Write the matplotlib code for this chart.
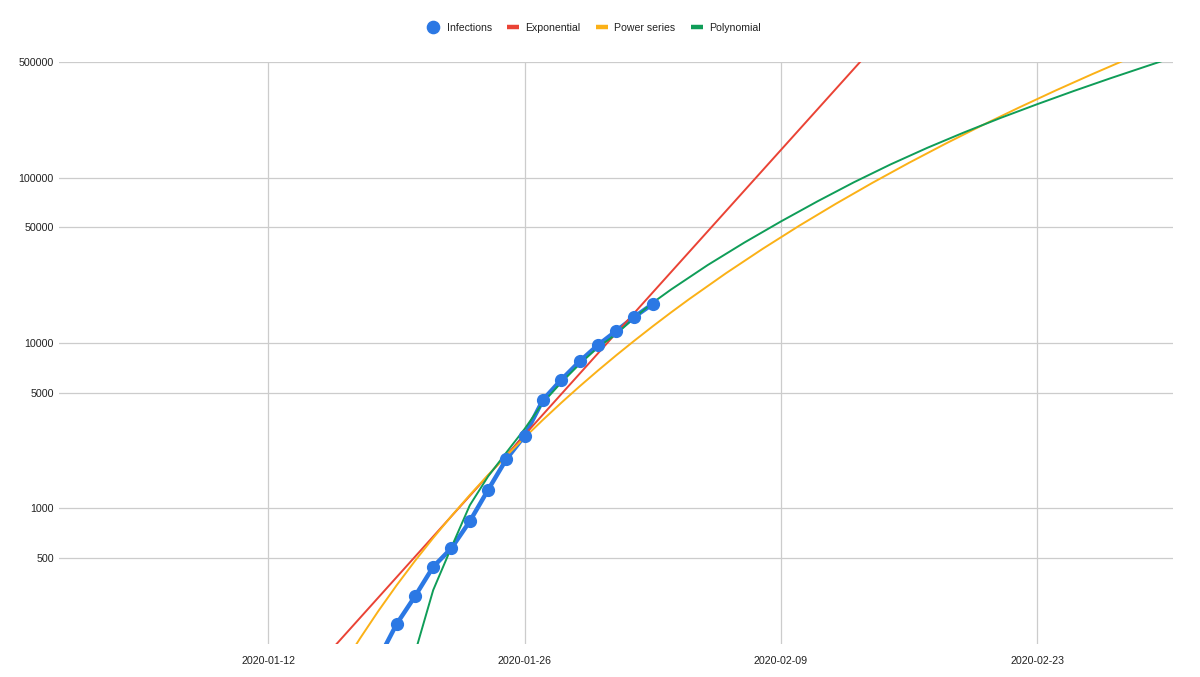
import matplotlib
matplotlib.use("Agg")
import matplotlib.pyplot as plt
import matplotlib.dates as mdates
from matplotlib.lines import Line2D
import pandas as pd

plt.rcParams['font.family'] = ['Liberation Sans', 'DejaVu Sans']

# ---- data ----
inf_dates = pd.date_range('2020-01-18', '2020-02-02', freq='D')
infections = [121, 198, 291, 440, 571, 830, 1287, 1975, 2744, 4515,
              5974, 7711, 9692, 11791, 14380, 17205]

exp_dates = pd.to_datetime(['2020-01-12', '2020-01-19', '2020-01-26',
                            '2020-02-02', '2020-02-09', '2020-02-16'])
exponential = [52.2, 380.7, 2773, 20210, 147200, 1072000]

pow_dates = pd.to_datetime([
    '2020-01-16', '2020-01-17', '2020-01-18', '2020-01-19', '2020-01-20',
    '2020-01-21', '2020-01-22', '2020-01-23', '2020-01-24', '2020-01-25',
    '2020-01-26', '2020-01-27', '2020-01-28', '2020-01-29', '2020-01-30',
    '2020-01-31', '2020-02-01', '2020-02-02', '2020-02-03', '2020-02-04',
    '2020-02-06', '2020-02-08', '2020-02-10', '2020-02-12', '2020-02-14',
    '2020-02-16', '2020-02-18', '2020-02-20', '2020-02-22', '2020-02-24',
    '2020-02-26', '2020-02-28', '2020-03-01'])
power_series = [108.1, 162, 237.3, 340, 477.1, 658, 894.4, 1198, 1584, 2069,
                2674, 3420, 4335, 5448, 6790, 8401, 10320, 12600, 15290, 18440,
                26400, 37070, 51170, 69500, 93100, 123100, 160800, 207700,
                265700, 336900, 423200, 527700, 652700]

poly_dates = pd.to_datetime([
    '2020-01-20', '2020-01-21', '2020-01-22', '2020-01-23', '2020-01-24',
    '2020-01-25', '2020-01-26', '2020-01-27', '2020-01-28', '2020-01-29',
    '2020-01-30', '2020-01-31', '2020-02-01', '2020-02-02', '2020-02-03',
    '2020-02-05', '2020-02-07', '2020-02-09', '2020-02-11', '2020-02-13',
    '2020-02-15', '2020-02-17', '2020-02-19', '2020-02-21', '2020-02-23',
    '2020-02-25', '2020-02-27', '2020-02-29', '2020-03-01'])
polynomial = [131.8, 318, 579, 1038, 1553, 2168, 3014, 4345, 5754, 7437,
              9369, 11290, 14210, 17510, 21040, 29580, 40460, 54330, 71940,
              93970, 120500, 151700, 187900, 230100, 278600, 335000, 399900,
              474300, 516400]

x_ticks = pd.to_datetime(['2020-01-12', '2020-01-26', '2020-02-09', '2020-02-23'])
y_ticks = [500, 1000, 5000, 10000, 50000, 100000, 500000]
y_labels = ['500', '1000', '5000', '10000', '50000', '100000', '500000']
legend_labels = ['Infections', 'Exponential', 'Power series', 'Polynomial']

# ---- style ----
C_BLUE = '#2b78e4'
C_RED = '#EA4335'
C_ORANGE = '#FBB117'
C_GREEN = '#0F9D58'
TXT = '#222222'
FS = 7.7
LFS = 7.6
W, H = 1200, 677

fig = plt.figure(figsize=(12, 6.77), dpi=100)
ax = fig.add_axes([59.3 / W, 1 - 644 / H, (1172.7 - 59.3) / W, (644 - 62.3) / H])

ax.plot(inf_dates, infections, color=C_BLUE, lw=3.2, zorder=2, solid_capstyle='round')
ax.plot(exp_dates, exponential, color=C_RED, lw=1.4, zorder=3)
ax.plot(pow_dates, power_series, color=C_ORANGE, lw=1.4, zorder=3)
ax.plot(poly_dates, polynomial, color=C_GREEN, lw=1.4, zorder=3)
ax.plot(inf_dates, infections, linestyle='none', marker='o', markersize=8.5,
        color=C_BLUE, zorder=4)

ax.set_yscale('log')
ax.set_ylim(150, 500000)
ax.set_xlim(pd.Timestamp('2019-12-31 13:40'), pd.Timestamp('2020-03-01 09:50'))

ax.set_yticks(y_ticks)
ax.set_yticklabels(y_labels)
ax.yaxis.set_minor_locator(matplotlib.ticker.NullLocator())
ax.set_xticks(x_ticks)
ax.xaxis.set_major_formatter(mdates.DateFormatter('%Y-%m-%d'))

ax.grid(True, which='major', color='#cccccc', lw=0.9)
ax.set_axisbelow(True)
for s in ax.spines.values():
    s.set_visible(False)
ax.tick_params(axis='both', length=0, labelsize=FS, labelcolor=TXT)
ax.tick_params(axis='y', pad=4)
ax.tick_params(axis='x', pad=9)

# ---- legend (manual, one row at the top) ----
renderer = fig.canvas.get_renderer()
leg_y = 1 - 27 / H
leg_base = 1 - 30.8 / H
colors = [C_BLUE, C_RED, C_ORANGE, C_GREEN]
texts = []
for lab in legend_labels:
    t = fig.text(0, leg_base, lab, fontsize=LFS, color=TXT, ha='left', va='baseline')
    texts.append(t)
widths = [t.get_window_extent(renderer).width for t in texts]
start_x, end_x = 446.7, 761.0
handle_w, handle_gap = 12.0, 6.5
gap = (end_x - start_x - sum(widths) - 3 * (handle_w + handle_gap)) / 3
x = start_x
for i, (t, col) in enumerate(zip(texts, colors)):
    if i == 0:
        fig.add_artist(Line2D([433.3 / W], [leg_y], marker='o', markersize=8.8,
                              linestyle='none', color=col))
    else:
        x += gap
        fig.add_artist(Line2D([x / W, (x + handle_w) / W], [leg_y, leg_y],
                              color=col, lw=3.2, solid_capstyle='butt'))
        x += handle_w + handle_gap
    t.set_x(x / W)
    x += widths[i]

fig.savefig('out.png', dpi=100, facecolor='white')
